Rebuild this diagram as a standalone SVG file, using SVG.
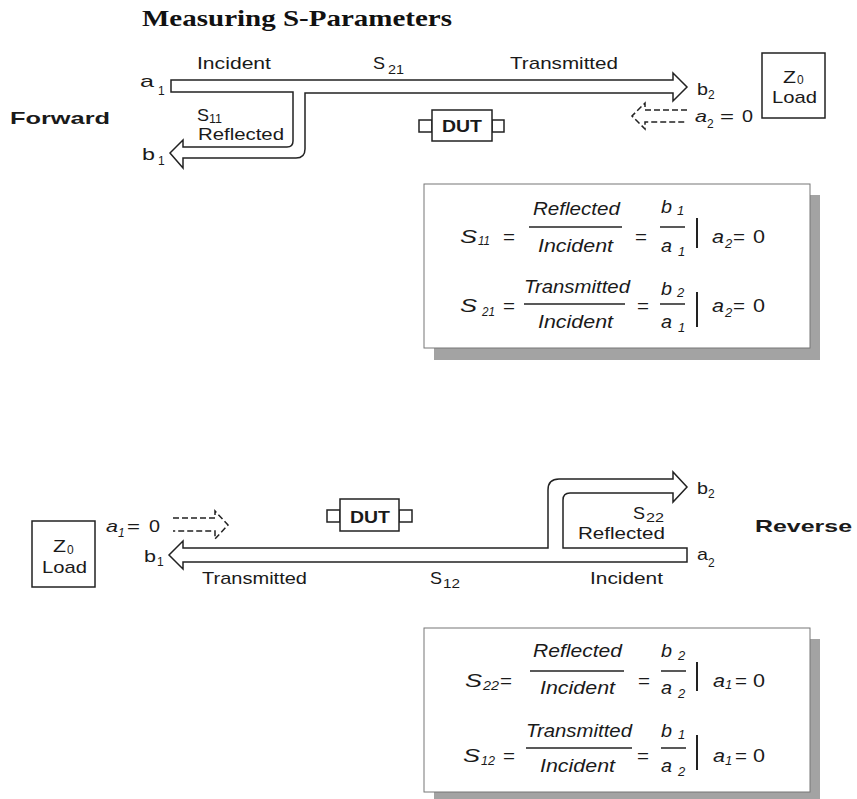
<svg xmlns="http://www.w3.org/2000/svg" width="857" height="799" viewBox="0 0 857 799">
<style>
.t{font-family:"Liberation Sans",Arial,Helvetica,sans-serif;font-size:17px;fill:#1a1a1a}
.s{font-size:12px}
.i{font-style:italic}
.e{font-family:"Liberation Sans",Arial,Helvetica,sans-serif;font-size:18px;font-style:italic;fill:#1a1a1a}
.es{font-size:13px}
.n{font-style:normal}
.b{font-weight:bold}
.ar{fill:#fff;stroke:#222;stroke-width:1.5;stroke-linejoin:miter}
.da{fill:none;stroke:#222;stroke-width:1.5;stroke-dasharray:6 3}
.box{fill:#fff;stroke:#222;stroke-width:1.5}
.ebox{fill:#fff;stroke:#777;stroke-width:1}
.sh{fill:#a3a3a3}
.ln{stroke:#222;stroke-width:1.5}
.bar{stroke:#222;stroke-width:2}
</style>
<rect width="857" height="799" fill="#fff"/>
<g id="title">
<text x="142" y="26" font-family="'Liberation Serif','Times New Roman',serif" font-weight="bold" font-size="24" fill="#111" textLength="310" lengthAdjust="spacingAndGlyphs">Measuring S-Parameters</text>
</g>
<g id="connectors">
<path class="ar" d="M171,80 H673 V73 L687,87 L673,101 V93 H305 V149 Q305,158 296,158 H183 V168 L170,153 L183,140 V147 H287 Q293,147 293,141 V92 H171 Z"/>
<path class="da" d="M687,110 H645 V103 L632,116 L645,129 V122 H687"/>
<path class="ar" d="M687,548 H563 V500 Q563,493 570,493 H673 V502 L687,487 L673,472 V479 H559 Q548,479 548,490 V548 H183 V541 L169,555 L183,569 V562 H687 Z"/>
<path class="da" d="M173,518 H215 V511 L228,525 L215,539 V531 H173"/>
</g>
<g id="forward-label">
<text class="t b" x="10" y="124" font-size="23" textLength="100" lengthAdjust="spacingAndGlyphs">Forward</text>
</g>
<g id="forward-labels">
<text class="t" x="197" y="69" textLength="74" lengthAdjust="spacingAndGlyphs">Incident</text>
<text class="t" x="373" y="69" textLength="12" lengthAdjust="spacingAndGlyphs">S</text>
<text class="t s" x="388" y="74" textLength="16" lengthAdjust="spacingAndGlyphs">21</text>
<text class="t" x="510" y="69" textLength="108" lengthAdjust="spacingAndGlyphs">Transmitted</text>
<text class="t" x="140" y="87" textLength="14" lengthAdjust="spacingAndGlyphs">a</text>
<text class="t s" x="158" y="95">1</text>
<text class="t" x="197" y="121" textLength="12" lengthAdjust="spacingAndGlyphs">S</text>
<text class="t s" x="209" y="123" font-size="11" textLength="13" lengthAdjust="spacingAndGlyphs">11</text>
<text class="t" x="198" y="140" textLength="86" lengthAdjust="spacingAndGlyphs">Reflected</text>
<text class="t" x="142" y="160" textLength="13" lengthAdjust="spacingAndGlyphs">b</text>
<text class="t s" x="158" y="165">1</text>
<text class="t" x="697" y="95" textLength="11" lengthAdjust="spacingAndGlyphs">b</text>
<text class="t s" x="708" y="99">2</text>
<text class="t i" x="695" y="122" textLength="12" lengthAdjust="spacingAndGlyphs">a</text>
<text class="t s" x="707" y="128">2</text>
<text class="t" x="720" y="122" textLength="14" lengthAdjust="spacingAndGlyphs">=</text>
<text class="t" x="742" y="122" textLength="11" lengthAdjust="spacingAndGlyphs">0</text>
</g>
<g id="dut-forward">
<rect class="box" x="419" y="120" width="13" height="12"/>
<rect class="box" x="492" y="120" width="12" height="12"/>
<rect class="box" x="432" y="110" width="60" height="31"/>
<text class="t b" x="442" y="132" font-size="19" textLength="40" lengthAdjust="spacingAndGlyphs">DUT</text>
</g>
<g id="load-forward">
<rect class="box" x="762" y="53" width="63" height="65"/>
<text class="t" x="783" y="83" textLength="13" lengthAdjust="spacingAndGlyphs">Z</text>
<text class="t s" x="797" y="84" font-size="11">0</text>
<text class="t" x="772" y="103" textLength="45" lengthAdjust="spacingAndGlyphs">Load</text>
</g>
<g id="eq-forward">
<rect class="sh" x="434" y="195" width="386" height="165"/>
<rect class="ebox" x="424" y="184" width="386" height="164"/>
<text class="e" x="460" y="243" textLength="17" lengthAdjust="spacingAndGlyphs">S</text>
<text class="e es" x="478" y="245" textLength="12" lengthAdjust="spacingAndGlyphs">11</text>
<text class="e n" x="503" y="243" textLength="12" lengthAdjust="spacingAndGlyphs">=</text>
<line class="ln" x1="529" y1="227" x2="622" y2="227"/>
<text class="e" x="533" y="215" textLength="87" lengthAdjust="spacingAndGlyphs">Reflected</text>
<text class="e" x="538" y="252" textLength="75" lengthAdjust="spacingAndGlyphs">Incident</text>
<text class="e n" x="635" y="243" textLength="12" lengthAdjust="spacingAndGlyphs">=</text>
<text class="e" x="661" y="213" textLength="11" lengthAdjust="spacingAndGlyphs">b</text>
<text class="e es" x="677" y="215">1</text>
<line class="ln" x1="660" y1="227" x2="685" y2="227"/>
<text class="e" x="661" y="252" textLength="11" lengthAdjust="spacingAndGlyphs">a</text>
<text class="e es" x="678" y="256">1</text>
<line class="bar" x1="697" y1="218" x2="697" y2="248"/>
<text class="e" x="712" y="243" textLength="12" lengthAdjust="spacingAndGlyphs">a</text>
<text class="e es" x="725" y="248">2</text>
<text class="e n" x="733" y="243" textLength="12" lengthAdjust="spacingAndGlyphs">=</text>
<text class="e n" x="753" y="243" textLength="12" lengthAdjust="spacingAndGlyphs">0</text>
<text class="e" x="460" y="312" textLength="17" lengthAdjust="spacingAndGlyphs">S</text>
<text class="e es" x="482" y="316" textLength="13" lengthAdjust="spacingAndGlyphs">21</text>
<text class="e n" x="503" y="312" textLength="12" lengthAdjust="spacingAndGlyphs">=</text>
<line class="ln" x1="524" y1="304" x2="625" y2="304"/>
<text class="e" x="524" y="293" textLength="106" lengthAdjust="spacingAndGlyphs">Transmitted</text>
<text class="e" x="538" y="328" textLength="75" lengthAdjust="spacingAndGlyphs">Incident</text>
<text class="e n" x="637" y="312" textLength="12" lengthAdjust="spacingAndGlyphs">=</text>
<text class="e" x="661" y="295" textLength="11" lengthAdjust="spacingAndGlyphs">b</text>
<text class="e es" x="677" y="297">2</text>
<line class="ln" x1="660" y1="304" x2="685" y2="304"/>
<text class="e" x="661" y="328" textLength="11" lengthAdjust="spacingAndGlyphs">a</text>
<text class="e es" x="678" y="332">1</text>
<line class="bar" x1="697" y1="292" x2="697" y2="327"/>
<text class="e" x="712" y="312" textLength="12" lengthAdjust="spacingAndGlyphs">a</text>
<text class="e es" x="725" y="317">2</text>
<text class="e n" x="733" y="312" textLength="12" lengthAdjust="spacingAndGlyphs">=</text>
<text class="e n" x="753" y="312" textLength="12" lengthAdjust="spacingAndGlyphs">0</text>
</g>
<g id="load-reverse">
<rect class="box" x="32" y="521" width="63" height="66"/>
<text class="t" x="53" y="552" textLength="13" lengthAdjust="spacingAndGlyphs">Z</text>
<text class="t s" x="67" y="554" font-size="11">0</text>
<text class="t" x="42" y="573" textLength="45" lengthAdjust="spacingAndGlyphs">Load</text>
</g>
<g id="reverse-labels">
<text class="t i" x="106" y="532" textLength="12" lengthAdjust="spacingAndGlyphs">a</text>
<text class="t s i" x="118" y="537">1</text>
<text class="t" x="127" y="532" textLength="13" lengthAdjust="spacingAndGlyphs">=</text>
<text class="t" x="149" y="532" textLength="11" lengthAdjust="spacingAndGlyphs">0</text>
<text class="t" x="144" y="562" textLength="12" lengthAdjust="spacingAndGlyphs">b</text>
<text class="t s" x="157" y="566">1</text>
<text class="t" x="202" y="584" textLength="105" lengthAdjust="spacingAndGlyphs">Transmitted</text>
<text class="t" x="430" y="584" textLength="12" lengthAdjust="spacingAndGlyphs">S</text>
<text class="t s" x="443" y="588" textLength="17" lengthAdjust="spacingAndGlyphs">12</text>
<text class="t" x="590" y="584" textLength="73" lengthAdjust="spacingAndGlyphs">Incident</text>
<text class="t" x="578" y="539" textLength="87" lengthAdjust="spacingAndGlyphs">Reflected</text>
<text class="t" x="633" y="519" textLength="12" lengthAdjust="spacingAndGlyphs">S</text>
<text class="t s" x="646" y="522" font-size="11" textLength="18" lengthAdjust="spacingAndGlyphs">22</text>
<text class="t" x="697" y="494" textLength="11" lengthAdjust="spacingAndGlyphs">b</text>
<text class="t s" x="708" y="498">2</text>
<text class="t" x="697" y="560" textLength="11" lengthAdjust="spacingAndGlyphs">a</text>
<text class="t s" x="708" y="567">2</text>
</g>
<g id="reverse-label">
<text class="t b" x="755" y="532" font-size="23" textLength="97" lengthAdjust="spacingAndGlyphs">Reverse</text>
</g>
<g id="dut-reverse">
<rect class="box" x="327" y="510" width="13" height="12"/>
<rect class="box" x="399" y="510" width="13" height="12"/>
<rect class="box" x="340" y="499" width="59" height="32"/>
<text class="t b" x="350" y="523" font-size="19" textLength="40" lengthAdjust="spacingAndGlyphs">DUT</text>
</g>
<g id="eq-reverse">
<rect class="sh" x="434" y="639" width="386" height="165"/>
<rect class="ebox" x="424" y="628" width="386" height="164"/>
<text class="e" x="465" y="687" textLength="17" lengthAdjust="spacingAndGlyphs">S</text>
<text class="e es" x="483" y="690" textLength="16" lengthAdjust="spacingAndGlyphs">22</text>
<text class="e n" x="500" y="687" textLength="12" lengthAdjust="spacingAndGlyphs">=</text>
<line class="ln" x1="530" y1="671" x2="624" y2="671"/>
<text class="e" x="533" y="657" textLength="89" lengthAdjust="spacingAndGlyphs">Reflected</text>
<text class="e" x="540" y="694" textLength="75" lengthAdjust="spacingAndGlyphs">Incident</text>
<text class="e n" x="638" y="687" textLength="12" lengthAdjust="spacingAndGlyphs">=</text>
<text class="e" x="661" y="657" textLength="11" lengthAdjust="spacingAndGlyphs">b</text>
<text class="e es" x="678" y="660">2</text>
<line class="ln" x1="661" y1="671" x2="686" y2="671"/>
<text class="e" x="661" y="694" textLength="11" lengthAdjust="spacingAndGlyphs">a</text>
<text class="e es" x="678" y="698">2</text>
<line class="bar" x1="697" y1="662" x2="697" y2="691"/>
<text class="e" x="713" y="687" textLength="12" lengthAdjust="spacingAndGlyphs">a</text>
<text class="e es" x="725" y="689">1</text>
<text class="e n" x="735" y="687" textLength="12" lengthAdjust="spacingAndGlyphs">=</text>
<text class="e n" x="753" y="687" textLength="12" lengthAdjust="spacingAndGlyphs">0</text>
<text class="e" x="463" y="762" textLength="17" lengthAdjust="spacingAndGlyphs">S</text>
<text class="e es" x="481" y="765" textLength="14" lengthAdjust="spacingAndGlyphs">12</text>
<text class="e n" x="503" y="762" textLength="12" lengthAdjust="spacingAndGlyphs">=</text>
<line class="ln" x1="526" y1="748" x2="632" y2="748"/>
<text class="e" x="526" y="737" textLength="106" lengthAdjust="spacingAndGlyphs">Transmitted</text>
<text class="e" x="540" y="772" textLength="75" lengthAdjust="spacingAndGlyphs">Incident</text>
<text class="e n" x="637" y="762" textLength="12" lengthAdjust="spacingAndGlyphs">=</text>
<text class="e" x="661" y="737" textLength="11" lengthAdjust="spacingAndGlyphs">b</text>
<text class="e es" x="678" y="739">1</text>
<line class="ln" x1="661" y1="748" x2="686" y2="748"/>
<text class="e" x="661" y="772" textLength="11" lengthAdjust="spacingAndGlyphs">a</text>
<text class="e es" x="678" y="776">2</text>
<line class="bar" x1="697" y1="735" x2="697" y2="770"/>
<text class="e" x="713" y="762" textLength="12" lengthAdjust="spacingAndGlyphs">a</text>
<text class="e es" x="725" y="765">1</text>
<text class="e n" x="735" y="762" textLength="12" lengthAdjust="spacingAndGlyphs">=</text>
<text class="e n" x="753" y="762" textLength="12" lengthAdjust="spacingAndGlyphs">0</text>
</g>
</svg>
